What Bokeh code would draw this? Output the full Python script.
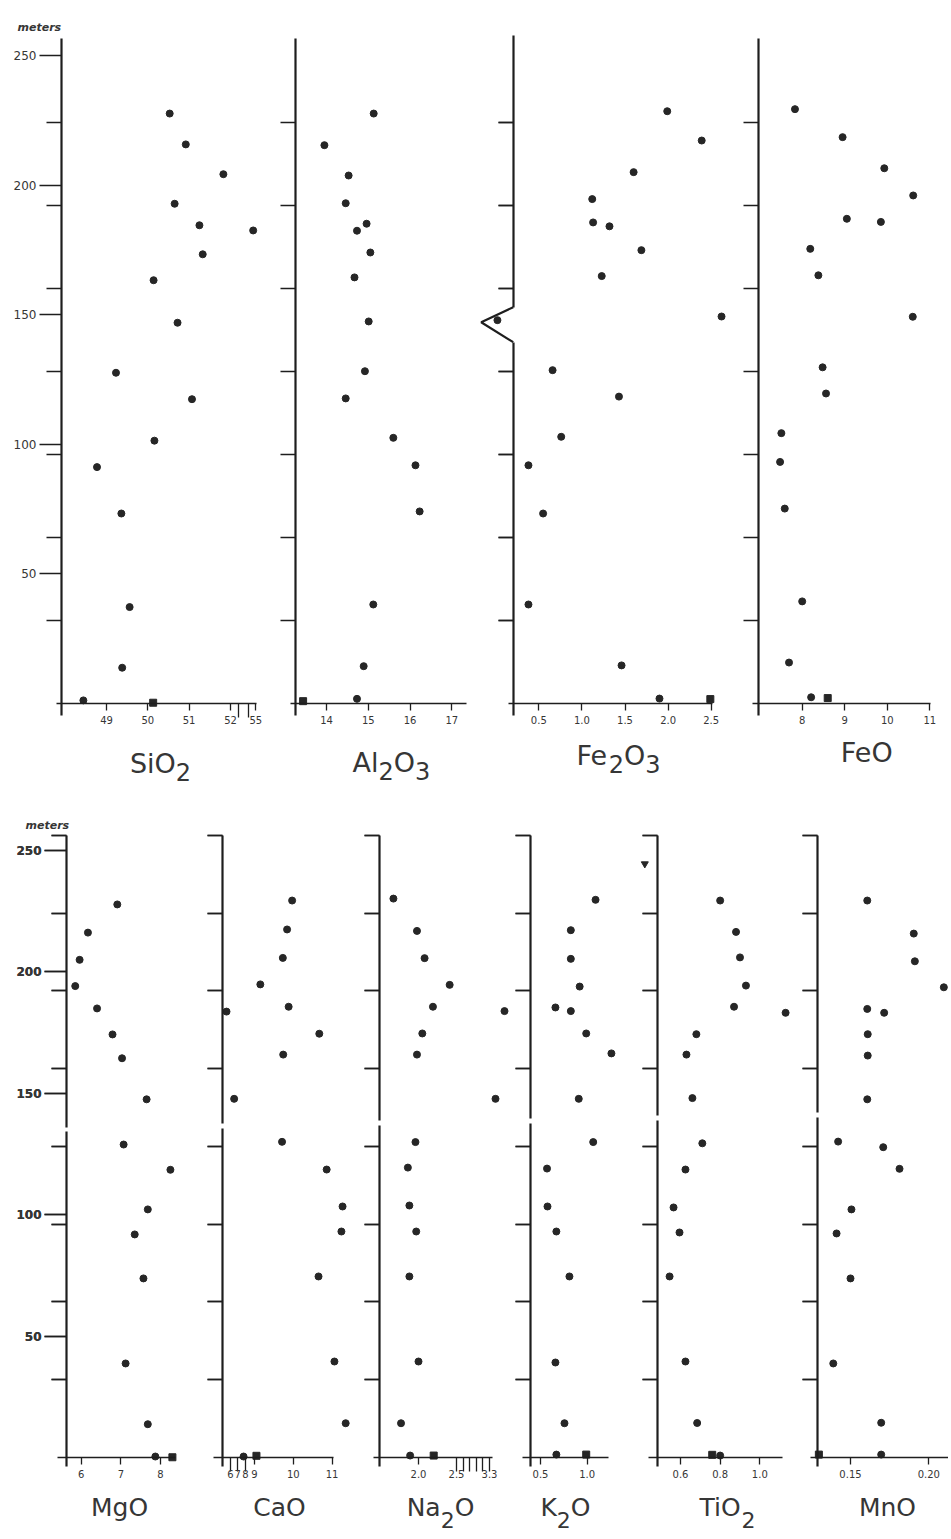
import numpy as np
from bokeh.plotting import figure
from bokeh.models import Range1d, LinearAxis, FixedTicker
from bokeh.core.properties import value
from bokeh.layouts import column
from bokeh.embed import file_html
from bokeh.resources import INLINE

# ---------------- data: sample height (m) and oxide content (wt. %) ----------------
SIO2_M = [227.6, 215.7, 204.2, 192.8, 184.5, 182.5, 173.3, 163.3, 146.9, 127.6, 117.4, 101.4, 91.2, 73.3, 37.2, 13.8, 1.2]
SIO2_V = [50.53, 50.92, 51.83, 50.65, 51.25, 54.64, 51.33, 50.14, 50.72, 49.23, 51.07, 50.16, 48.77, 49.36, 49.56, 49.38, 48.44]
SIO2_SQ_M = [0.3]
SIO2_SQ_V = [50.13]

AL2O3_M = [227.6, 215.4, 203.7, 193.0, 185.1, 182.4, 174.0, 164.4, 147.4, 128.2, 117.7, 102.5, 91.9, 74.1, 38.2, 14.4, 1.8]
AL2O3_V = [15.13, 13.95, 14.53, 14.46, 14.96, 14.73, 15.05, 14.67, 15.01, 14.92, 14.46, 15.60, 16.13, 16.23, 15.12, 14.89, 14.73]
AL2O3_SQ_M = [0.9]
AL2O3_SQ_V = [13.44]

FE2O3_M = [228.5, 217.2, 205.0, 194.6, 185.6, 184.1, 174.9, 164.9, 147.9, 149.3, 128.6, 118.4, 102.9, 91.9, 73.3, 38.2, 14.7, 1.9]
FE2O3_V = [1.99, 2.39, 1.60, 1.12, 1.13, 1.32, 1.69, 1.23, 0.02, 2.62, 0.66, 1.43, 0.76, 0.38, 0.55, 0.38, 1.46, 1.90]
FE2O3_SQ_M = [1.7]
FE2O3_SQ_V = [2.49]

FEO_M = [229.3, 218.5, 206.5, 196.0, 187.0, 185.8, 175.4, 165.2, 149.2, 129.7, 119.6, 104.3, 93.2, 75.2, 39.4, 15.8, 2.4]
FEO_V = [7.83, 8.95, 9.93, 10.61, 9.05, 9.85, 8.19, 8.38, 10.60, 8.48, 8.56, 7.51, 7.48, 7.59, 8.00, 7.69, 8.21]
FEO_SQ_M = [2.1]
FEO_SQ_V = [8.60]

MGO_M = [227.6, 216.0, 204.8, 194.0, 184.8, 174.1, 164.3, 147.4, 128.8, 118.4, 102.1, 91.8, 73.7, 38.7, 13.7, 0.4]
MGO_V = [6.91, 6.17, 5.96, 5.85, 6.40, 6.79, 7.03, 7.65, 7.07, 8.25, 7.68, 7.35, 7.57, 7.12, 7.68, 7.87]
MGO_SQ_M = [0.1]
MGO_SQ_V = [8.30]

CAO_M = [229.2, 217.3, 205.6, 194.7, 185.5, 183.5, 174.4, 165.8, 147.6, 129.9, 118.5, 103.3, 93.0, 74.5, 39.5, 14.1, 0.4]
CAO_V = [9.97, 9.84, 9.73, 9.15, 9.88, 5.5, 10.67, 9.74, 6.5, 9.71, 10.86, 11.27, 11.24, 10.65, 11.06, 11.35, 7.75]
CAO_SQ_M = [0.7]
CAO_SQ_V = [9.05]

NA2O_M = [230.0, 216.7, 205.5, 194.5, 185.5, 183.7, 174.5, 165.8, 147.6, 129.8, 119.3, 103.7, 93.0, 74.5, 39.5, 14.1, 0.8]
NA2O_V = [1.67, 1.98, 2.08, 2.41, 2.19, 3.55, 2.05, 1.98, 3.40, 1.96, 1.86, 1.88, 1.97, 1.88, 2.00, 1.77, 1.89]
NA2O_SQ_M = [0.8]
NA2O_SQ_V = [2.20]

K2O_M = [229.5, 217.0, 205.2, 193.8, 185.2, 183.7, 174.5, 166.3, 147.6, 129.8, 118.9, 103.3, 93.0, 74.5, 39.1, 14.1, 1.2]
K2O_V = [1.09, 0.825, 0.825, 0.92, 0.66, 0.825, 0.99, 1.26, 0.91, 1.065, 0.57, 0.575, 0.67, 0.81, 0.66, 0.757, 0.67]
K2O_SQ_M = [1.2]
K2O_SQ_V = [0.99]

TIO2_M = [229.2, 216.3, 205.8, 194.2, 185.5, 183.0, 174.2, 165.8, 147.9, 129.3, 118.5, 102.9, 92.6, 74.5, 39.5, 14.2, 0.8]
TIO2_V = [0.80, 0.88, 0.90, 0.93, 0.87, 1.13, 0.68, 0.63, 0.66, 0.71, 0.625, 0.565, 0.595, 0.545, 0.625, 0.684, 0.80]
TIO2_SQ_M = [1.1]
TIO2_SQ_V = [0.76]
TIO2_TRI_M = [244.3]
TIO2_TRI_V = [0.42]

MNO_M = [229.2, 215.6, 204.2, 193.5, 184.6, 183.0, 174.2, 165.4, 147.4, 130.0, 127.7, 118.8, 102.1, 92.2, 73.7, 38.7, 14.3, 1.2]
MNO_V = [0.1607, 0.1904, 0.1911, 0.2096, 0.1607, 0.1715, 0.161, 0.161, 0.1607, 0.1421, 0.1709, 0.1813, 0.1506, 0.1411, 0.150, 0.139, 0.1696, 0.1696]
MNO_SQ_M = [1.2]
MNO_SQ_V = [0.1298]

# ---------------- tick values and labels ----------------
HEIGHT_TICKS = [50, 100, 150, 200, 250]
SECTION_TICKS_TOP = [32, 64, 96, 128, 160, 192, 224]
SECTION_TICKS_BOT = [32, 64, 96, 128, 160, 192, 224, 256]

SIO2_TICKS = [49, 50, 51, 52, 53, 54, 55]
SIO2_LABELS = ["49", "50", "51", "52", "", "", "55"]
AL2O3_TICKS = [14, 15, 16, 17]
AL2O3_LABELS = ["14", "15", "16", "17"]
FE2O3_TICKS = [0.5, 1.0, 1.5, 2.0, 2.5]
FE2O3_LABELS = ["0.5", "1.0", "1.5", "2.0", "2.5"]
FEO_TICKS = [8, 9, 10, 11]
FEO_LABELS = ["8", "9", "10", "11"]
MGO_TICKS = [6, 7, 8]
MGO_LABELS = ["6", "7", "8"]
CAO_TICKS = [6, 7, 8, 9, 10, 11]
CAO_LABELS = ["6", "7", "8", "9", "10", "11"]
NA2O_TICKS = [2.0, 2.5, 2.6, 2.7, 2.8, 2.9, 3.3]
NA2O_LABELS = ["2.0", "2.5", "", "", "", "", "3.3"]
K2O_TICKS = [0.5, 1.0]
K2O_LABELS = ["0.5", "1.0"]
TIO2_TICKS = [0.6, 0.8, 1.0]
TIO2_LABELS = ["0.6", "0.8", "1.0"]
MNO_TICKS = [0.15, 0.20]
MNO_LABELS = ["0.15", "0.20"]

# oxide names as (text, is_subscript) pieces
SIO2_NAME = [("SiO", False), ("2", True)]
AL2O3_NAME = [("Al", False), ("2", True), ("O", False), ("3", True)]
FE2O3_NAME = [("Fe", False), ("2", True), ("O", False), ("3", True)]
FEO_NAME = [("FeO", False)]
MGO_NAME = [("MgO", False)]
CAO_NAME = [("CaO", False)]
NA2O_NAME = [("Na", False), ("2", True), ("O", False)]
K2O_NAME = [("K", False), ("2", True), ("O", False)]
TIO2_NAME = [("TiO", False), ("2", True)]
MNO_NAME = [("MnO", False)]

# ---------------- layout (page pixels) ----------------
PAGE_L, PAGE_R = 0, 948
INK = "#262626"
LINE = "#1e1e1e"
TEXT = "#363636"
FONT = "DejaVu Sans"
# DejaVu Sans advance widths (em) used to lay out subscript pieces
EM = {"S": 0.635, "i": 0.278, "O": 0.787, "A": 0.684, "l": 0.278, "F": 0.575, "e": 0.615,
      "M": 0.863, "g": 0.635, "C": 0.698, "a": 0.613, "N": 0.748, "K": 0.656, "T": 0.611,
      "n": 0.634, "2": 0.636, "3": 0.636}

ROWS = {
    "top": dict(canvas=(0, 794), y0=703, pxm=2.592, vb=(-4.8, 256.5), sect=SECTION_TICKS_TOP,
                title=(17, 27), label_size=27, sub_drop=8, ylab_style="normal"),
    "bot": dict(canvas=(794, 1535), y0=1457, pxm=2.43, vb=(-3.7, 256.0), sect=SECTION_TICKS_BOT,
                title=(25, 825), label_size=25, sub_drop=12, ylab_style="bold"),
}

# cal = (value, pixel, pixels per unit); axis = x of vertical line; xspan = extent of x axis line
LAYOUT = {
    "sio2": dict(cal=(49.0, 106.0, 41.3), axis=61, xspan=(56, 256), lab=(160, 763),
                 comp=([52, 53, 54, 55, 56], [230, 238.3, 248, 255.3, 262]), long=[53, 54]),
    "al2o3": dict(cal=(14.0, 326.0, 41.77), axis=295, xspan=(290, 466), lab=(391, 762)),
    "fe2o3": dict(cal=(0.5, 538.3, 86.2), axis=512.7, xspan=(508, 712), lab=(618, 755),
                  notch=(139.4, 147.1, 152.9), apex=480.7, vtop=257.7),
    "feo": dict(cal=(8.0, 801.7, 42.53), axis=758, xspan=(752, 930), lab=(867, 752)),
    "mgo": dict(cal=(6.0, 80.7, 39.65), axis=66, xspan=(57, 175), lab=(119, 1507), gap=(134.0, 136.0)),
    "cao": dict(cal=(9.0, 254.0, 38.8), axis=222, xspan=(213, 333), lab=(279, 1507), gap=(135.4, 137.4),
                comp=([4, 5, 6, 7, 8, 9], [214, 222, 230, 237.3, 245, 254]), long=[6, 7, 8]),
    "na2o": dict(cal=(2.0, 418.0, 76.0), axis=379, xspan=(373, 492), lab=(440, 1507), gap=(136.6, 138.7),
                 comp=([2.5, 2.6, 2.7, 2.8, 2.9, 3.3, 3.6], [456, 462.5, 469, 475.5, 482, 489, 507]),
                 long=[2.5, 2.6, 2.7, 2.8, 2.9, 3.3]),
    "k2o": dict(cal=(0.5, 540.0, 93.3), axis=530, xspan=(522, 608), lab=(565, 1507), gap=(137.6, 139.5)),
    "tio2": dict(cal=(0.6, 680.0, 198.3), axis=657, xspan=(648, 782), lab=(727, 1507), gap=(138.7, 140.7)),
    "mno": dict(cal=(0.15, 850.0, 1566.0), axis=817, xspan=(810, 948), lab=(887, 1507), gap=(140.0, 142.0)),
}

TOP_PANELS = [
    dict(key="sio2", name=SIO2_NAME, v=SIO2_V, m=SIO2_M, sv=SIO2_SQ_V, sm=SIO2_SQ_M, ticks=SIO2_TICKS, labels=SIO2_LABELS),
    dict(key="al2o3", name=AL2O3_NAME, v=AL2O3_V, m=AL2O3_M, sv=AL2O3_SQ_V, sm=AL2O3_SQ_M, ticks=AL2O3_TICKS, labels=AL2O3_LABELS),
    dict(key="fe2o3", name=FE2O3_NAME, v=FE2O3_V, m=FE2O3_M, sv=FE2O3_SQ_V, sm=FE2O3_SQ_M, ticks=FE2O3_TICKS, labels=FE2O3_LABELS),
    dict(key="feo", name=FEO_NAME, v=FEO_V, m=FEO_M, sv=FEO_SQ_V, sm=FEO_SQ_M, ticks=FEO_TICKS, labels=FEO_LABELS),
]
BOT_PANELS = [
    dict(key="mgo", name=MGO_NAME, v=MGO_V, m=MGO_M, sv=MGO_SQ_V, sm=MGO_SQ_M, ticks=MGO_TICKS, labels=MGO_LABELS),
    dict(key="cao", name=CAO_NAME, v=CAO_V, m=CAO_M, sv=CAO_SQ_V, sm=CAO_SQ_M, ticks=CAO_TICKS, labels=CAO_LABELS),
    dict(key="na2o", name=NA2O_NAME, v=NA2O_V, m=NA2O_M, sv=NA2O_SQ_V, sm=NA2O_SQ_M, ticks=NA2O_TICKS, labels=NA2O_LABELS),
    dict(key="k2o", name=K2O_NAME, v=K2O_V, m=K2O_M, sv=K2O_SQ_V, sm=K2O_SQ_M, ticks=K2O_TICKS, labels=K2O_LABELS),
    dict(key="tio2", name=TIO2_NAME, v=TIO2_V, m=TIO2_M, sv=TIO2_SQ_V, sm=TIO2_SQ_M, ticks=TIO2_TICKS, labels=TIO2_LABELS,
         tv=TIO2_TRI_V, tm=TIO2_TRI_M),
    dict(key="mno", name=MNO_NAME, v=MNO_V, m=MNO_M, sv=MNO_SQ_V, sm=MNO_SQ_M, ticks=MNO_TICKS, labels=MNO_LABELS),
]


def make_maps(L):
    vref, xref, k = L["cal"]

    def px2u(px):
        return vref + (px - xref) / k

    comp = L.get("comp")

    def v2u(vals):
        v = np.asarray(vals, dtype=float)
        if comp is None:
            return v
        cv, cpx = comp
        cu = [px2u(x) for x in cpx]
        inside = (v >= cv[0]) & (v <= cv[-1])
        return np.where(inside, np.interp(v, cv, cu), v)

    return px2u, v2u


def build_row(row, panels):
    c0, c1 = row["canvas"]
    y0, pxm = row["y0"], row["pxm"]

    def py2m(py):
        return (y0 - py) / pxm

    p = figure(width=PAGE_R - PAGE_L, height=c1 - c0,
               x_range=Range1d(0, 1), y_range=Range1d(py2m(c1), py2m(c0)),
               x_axis_type=None, y_axis_type=None, toolbar_location=None,
               output_backend="svg", min_border=0,
               min_border_left=0, min_border_right=0, min_border_top=0, min_border_bottom=0)
    p.outline_line_color = None
    p.background_fill_color = "white"
    p.border_fill_color = "white"

    for i, pan in enumerate(panels):
        key = pan["key"]
        L = LAYOUT[key]
        px2u, v2u = make_maps(L)
        p.extra_x_ranges[key] = Range1d(px2u(PAGE_L), px2u(PAGE_R))

        # ---- points ----
        p.scatter(x=v2u(pan["v"]).tolist(), y=pan["m"], x_range_name=key, marker="circle",
                  size=7, fill_color=INK, line_color=INK)
        p.scatter(x=v2u(pan["sv"]).tolist(), y=pan["sm"], x_range_name=key, marker="square",
                  size=7, fill_color=INK, line_color=INK)
        if "tv" in pan:
            p.scatter(x=v2u(pan["tv"]).tolist(), y=pan["tm"], x_range_name=key, marker="inverted_triangle",
                      size=7, fill_color=INK, line_color=INK)

        # ---- x axes (value scale) ----
        xb = (px2u(L["xspan"][0]), px2u(L["xspan"][1]))
        long = L.get("long", [])
        groups = [([t for t in pan["ticks"] if t not in long], 7, 5, True),
                  ([t for t in pan["ticks"] if t in long], 14, -2, False)]
        for grp, tout, stand, draw_line in groups:
            if not grp:
                continue
            tu = [float(u) for u in v2u(grp)]
            ov = {u: pan["labels"][pan["ticks"].index(t)] for u, t in zip(tu, grp)}
            ax = LinearAxis(x_range_name=key, fixed_location=0, bounds=xb,
                            ticker=FixedTicker(ticks=tu), major_label_overrides=ov)
            ax.axis_line_color = LINE if draw_line else None
            ax.axis_line_width = 1.6
            ax.major_tick_out = tout
            ax.major_tick_in = 0
            ax.minor_tick_out = 0
            ax.major_tick_line_color = LINE
            ax.major_tick_line_width = 1.3
            ax.major_label_standoff = stand
            ax.major_label_text_font = FONT
            ax.major_label_text_font_size = "10px"
            ax.major_label_text_color = TEXT
            p.add_layout(ax, "below")

        # ---- vertical (height) axis, possibly broken ----
        ax_u = px2u(L["axis"])
        vb0, vb1 = row["vb"]
        if "vtop" in L:
            vb1 = L["vtop"]
        if "gap" in L:
            spans = [(vb0, L["gap"][0]), (L["gap"][1], vb1)]
        elif "notch" in L:
            spans = [(vb0, L["notch"][0]), (L["notch"][2], vb1)]
        else:
            spans = [(vb0, vb1)]
        for s0, s1 in spans:
            if i == 0:
                ticker = FixedTicker(ticks=HEIGHT_TICKS, minor_ticks=row["sect"])
                ov = {float(t): str(t) for t in HEIGHT_TICKS}
            else:
                ticker = FixedTicker(ticks=row["sect"])
                ov = {float(t): "" for t in row["sect"]}
            ay = LinearAxis(x_range_name=key, fixed_location=ax_u, bounds=(s0, s1), ticker=ticker,
                            major_label_overrides=ov)
            ay.axis_line_color = LINE
            ay.axis_line_width = 2.2
            ay.major_tick_line_color = LINE
            ay.minor_tick_line_color = LINE
            ay.major_tick_line_width = 1.4
            ay.minor_tick_line_width = 1.4
            ay.major_tick_in = 0
            ay.minor_tick_in = 0
            if i == 0:
                ay.major_tick_out = 22
                ay.minor_tick_out = 15
                ay.major_label_standoff = 3
            else:
                ay.major_tick_out = 15
                ay.minor_tick_out = 0
                ay.major_label_standoff = 0
            ay.major_label_text_font = FONT
            ay.major_label_text_font_size = "12px"
            ay.major_label_text_font_style = row["ylab_style"]
            ay.major_label_text_color = TEXT
            p.add_layout(ay, "left")
        if "notch" in L:
            n0, n1, n2 = L["notch"]
            p.line(x=[ax_u, px2u(L["apex"]), ax_u], y=[n2, n1, n0], x_range_name=key,
                   line_color=LINE, line_width=2.2)

        # ---- oxide name, laid out piece by piece (subscripts dropped) ----
        cx, by = L["lab"]
        fs = row["label_size"]
        sub_fs = round(fs * 0.88)
        drop = row["sub_drop"]
        widths = [sum(EM.get(ch, 0.62) for ch in t) * (sub_fs if s else fs) for t, s in pan["name"]]
        x = cx - sum(widths) / 2
        for (t, s), w in zip(pan["name"], widths):
            p.text(x=[px2u(x)], y=[py2m(by + (drop if s else 0))], text=[t], x_range_name=key,
                   text_align="left", text_baseline="alphabetic", text_font=value(FONT),
                   text_font_size=f"{sub_fs if s else fs}px", text_color=TEXT)
            x += w

        if i == 0:
            tx, ty = row["title"]
            p.text(x=[px2u(tx)], y=[py2m(ty)], text=["meters"], x_range_name=key,
                   text_align="left", text_baseline="alphabetic", text_font=value(FONT),
                   text_font_size="11px", text_font_style="bold italic", text_color=TEXT)
    return p


top = build_row(ROWS["top"], TOP_PANELS)
bot = build_row(ROWS["bot"], BOT_PANELS)
layout = column(top, bot)

open("out.html", "w").write(file_html(layout, INLINE))
